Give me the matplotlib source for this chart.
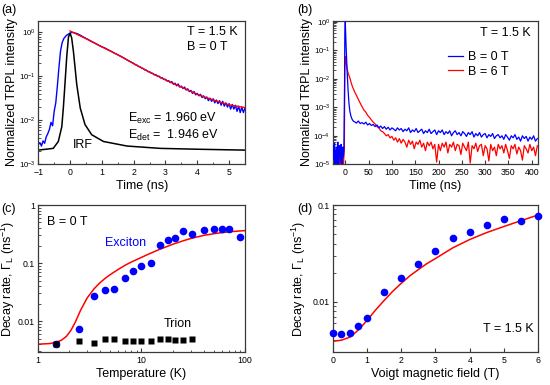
import numpy as np
import matplotlib
matplotlib.use("Agg")
import matplotlib.pyplot as plt
from matplotlib.ticker import MultipleLocator, FixedLocator, NullFormatter, LogLocator

plt.rcParams['font.family'] = ['Liberation Sans', 'DejaVu Sans']
plt.rcParams['mathtext.fontset'] = 'custom'
plt.rcParams['mathtext.rm'] = 'Liberation Sans'
plt.rcParams['mathtext.it'] = 'Liberation Sans:italic'
plt.rcParams['mathtext.bf'] = 'Liberation Sans:bold'

# ---------------- Panel (a) data ----------------
a_blue_rise_t = [-1.00, -0.95, -0.90, -0.85, -0.80, -0.75, -0.70, -0.65, -0.60, -0.55, -0.50,
                 -0.45, -0.40, -0.35, -0.30, -0.25, -0.20, -0.15, -0.10, -0.05, 0.00, 0.05, 0.10]
a_blue_rise = [0.0028, 0.0031, 0.0026, 0.0034, 0.0030, 0.0042, 0.0050, 0.0062, 0.0090, 0.0075, 0.016,
               0.025, 0.060, 0.16, 0.38, 0.58, 0.72, 0.80, 0.87, 0.92, 0.96, 1.00, 0.99]
a_blue_mid_t = [0.2, 0.3, 0.4, 0.5, 0.6, 0.7, 0.8, 0.9, 1.0, 1.1, 1.2, 1.3, 1.4, 1.5, 1.6, 1.7, 1.8, 1.9]
a_blue_mid = [0.95, 0.88, 0.80, 0.73, 0.67, 0.61, 0.56, 0.51, 0.47, 0.44, 0.40, 0.37, 0.335, 0.31,
              0.285, 0.26, 0.235, 0.215]
a_blue_tail = [0.197, 0.184, 0.180, 0.168, 0.165, 0.154, 0.151, 0.140, 0.138, 0.128, 0.127, 0.118,
               0.117, 0.108, 0.109, 0.100, 0.101, 0.092, 0.093, 0.085, 0.086, 0.078, 0.080, 0.072,
               0.076, 0.066, 0.070, 0.061, 0.067, 0.057, 0.060, 0.053, 0.057, 0.049, 0.052, 0.045,
               0.048, 0.041, 0.045, 0.038, 0.041, 0.036, 0.039, 0.033, 0.036, 0.031, 0.034, 0.028,
               0.032, 0.027, 0.031, 0.025, 0.029, 0.024, 0.028, 0.022, 0.027, 0.021, 0.025, 0.020,
               0.024, 0.018, 0.023, 0.018, 0.022, 0.016, 0.021, 0.015, 0.020, 0.015, 0.019]
a_fit_t = [0.0, 0.5, 1.0, 1.5, 2.0, 2.5, 3.0, 3.5, 4.0, 4.5, 5.0, 5.5]
a_fit = [1.08, 0.72, 0.47, 0.31, 0.195, 0.125, 0.083, 0.057, 0.039, 0.029, 0.0225, 0.0195]
a_irf_t = [-1.0, -0.53, -0.37, -0.26, -0.21, -0.16, -0.105, -0.05, 0.0, 0.05, 0.105, 0.16, 0.21,
           0.32, 0.47, 0.68, 1.05, 1.79, 2.84, 4.0, 5.5]
a_irf = [0.0021, 0.0023, 0.0033, 0.0072, 0.020, 0.069, 0.28, 0.79, 0.96, 0.75, 0.37, 0.15, 0.065,
         0.019, 0.008, 0.0047, 0.0033, 0.0026, 0.0023, 0.0022, 0.0021]

# ---------------- Panel (b) data (tails in units of 1e-5) ----------------
b_blue_pre = [3.5, 1.5, 4.5, 2, 5.5, 0.5, 3, 2.5, 4, 1, 3.5, 6, 2, 0.6, 4.5, 2.5, 3, 1.2, 5, 2,
              0.5, 3.5, 4, 1.8, 3]          # t = -27 ... -3
b_red_pre = [2, 0.6, 3.5, 1.5, 4, 0.5, 2.5, 3, 0.8, 2, 3.5]   # t = -12 ... -2
b_blue_early_t = [-1.5, -1, 0, 1, 2, 3, 4, 5, 6, 7, 8, 10, 12, 14, 16, 18]
b_blue_early = [0.008, 0.4, 1.0, 0.3, 0.11, 0.04, 0.018, 0.008, 0.004, 0.0022, 0.0013, 7e-4,
                5e-4, 4e-4, 3.5e-4, 3.2e-4]
b_red_early_t = [-1, 0, 1, 2, 3, 4, 6, 8, 10, 12, 14, 16, 18]
b_red_early = [0.02, 0.06, 0.045, 0.035, 0.028, 0.022, 0.016, 0.013, 0.0105, 0.008, 0.0062, 0.005, 0.0042]
b_blue_tail = [31, 28, 33, 27, 29, 26, 30, 24, 27, 23, 25, 21, 24, 19, 22, 18, 21, 17, 20, 16,
               19, 17, 15, 19, 16, 18, 14, 17, 15, 19, 13, 16, 14, 18, 13, 15, 17, 12, 15, 13,
               17, 12, 14, 16, 11, 15, 13, 16, 11, 14, 12, 15, 10, 13, 15, 11, 13, 10, 14, 12,
               9.5, 13, 11, 14, 9, 12, 10, 13, 9, 11, 12, 8.5, 11, 9.5, 12, 8, 10, 11, 8.5, 10,
               7.5, 11, 9, 7, 10, 8.5, 11, 7.5, 9, 6.5, 10, 8, 9.5, 6.5, 9, 7.5, 10, 6.5, 8]
b_red_tail = [350, 260, 190, 140, 105, 80, 68, 52, 44, 36, 30, 26, 21, 19, 15, 14, 12, 10, 11, 8.5,
              9.5, 7, 8.5, 6, 8, 5.5, 7.5, 6, 4, 7, 5, 6.5, 3.5, 6, 5, 7, 4, 5.5, 3, 6,
              4.5, 6, 3.5, 5, 1.2, 5, 3, 5.5, 4, 6, 2.5, 5, 4, 6, 3, 5, 4.5, 2.2, 5.5, 4,
              3, 6, 1.1, 4.5, 3.5, 5.5, 2.8, 4.5, 5, 2, 4.5, 3.5, 1.3, 5, 3, 4, 2, 5, 3.5, 4.5,
              2.5, 5, 3, 1.6, 4.5, 3.5, 5, 2.3, 4, 3, 1.4, 4.5, 3.5, 2.5, 5, 3, 4, 2, 4.5]

# ---------------- Panel (c) data ----------------
c_exc_T = [1.5, 2.5, 3.5, 4.5, 5.5, 7.0, 8.4, 10.0, 12.5, 15, 18, 21, 25, 31, 40, 50, 60, 70, 89]
c_exc = [0.0041, 0.0072, 0.0276, 0.034, 0.0355, 0.056, 0.074, 0.090, 0.101, 0.202, 0.253, 0.267,
         0.352, 0.32, 0.377, 0.385, 0.38, 0.38, 0.28]
c_tri_T = [1.5, 2.5, 3.5, 4.5, 5.5, 7.0, 8.4, 10.0, 12.5, 15, 18, 21, 25, 31]
c_tri = [0.0041, 0.0046, 0.0042, 0.0049, 0.0049, 0.0045, 0.0045, 0.0046, 0.0045, 0.0049, 0.0049,
         0.0048, 0.0048, 0.0050]
c_fit_T = [1.0, 1.3, 1.5, 1.7, 1.9, 2.1, 2.3, 2.6, 3.0, 3.5, 4.0, 4.5, 5, 6, 7, 8, 10, 12, 15,
           20, 25, 30, 40, 50, 60, 70, 85, 100]
c_fit = [0.0040, 0.0041, 0.0043, 0.0047, 0.0055, 0.0070, 0.0095, 0.0155, 0.025, 0.036, 0.046,
         0.055, 0.063, 0.078, 0.092, 0.104, 0.125, 0.145, 0.172, 0.21, 0.24, 0.265, 0.30, 0.32,
         0.335, 0.345, 0.355, 0.362]

# ---------------- Panel (d) data ----------------
d_B = [0, 0.25, 0.5, 0.75, 1.0, 1.5, 2.0, 2.5, 3.0, 3.5, 4.0, 4.5, 5.0, 5.5, 6.0]
d_rate = [0.0048, 0.00463, 0.0048, 0.00565, 0.0068, 0.0126, 0.0177, 0.0245, 0.0334, 0.0459,
          0.052, 0.0626, 0.071, 0.0689, 0.0776]
d_fit_B = [0, 0.25, 0.5, 0.75, 1.0, 1.25, 1.5, 1.75, 2.0, 2.25, 2.5, 2.75, 3.0, 3.5, 4.0, 4.5,
           5.0, 5.5, 6.0]
d_fit = [0.0039, 0.0040, 0.0043, 0.0051, 0.0064, 0.0082, 0.0103, 0.0128, 0.0155, 0.0185, 0.0215,
         0.0248, 0.028, 0.036, 0.044, 0.052, 0.060, 0.069, 0.079]

BLUE = '#0000ff'
RED = '#ff0000'
FRAME = '#3a3a3a'
TICK_FS = 6.3
LOGTICK_FS = 5.6
LAB_FS = 9
ANN_FS = 9


def style(ax, ylab_x, ytick_fs=TICK_FS):
    for s in ax.spines.values():
        s.set_color(FRAME)
        s.set_linewidth(0.9)
    ax.tick_params(which='both', direction='in', colors=FRAME, labelcolor='black',
                   labelsize=TICK_FS, top=False, right=False, pad=2.5)
    ax.tick_params(axis='y', which='both', labelsize=ytick_fs, pad=1.8)
    ax.tick_params(which='major', length=3, width=0.8)
    ax.tick_params(which='minor', length=1.8, width=0.6)
    ax.yaxis.set_label_coords(ylab_x, 0.5)


fig = plt.figure(figsize=(5.5, 3.85), dpi=100)
axA = fig.add_axes([0.0696, 0.5733, 0.3758, 0.373])
axB = fig.add_axes([0.6049, 0.5733, 0.3738, 0.373])
axC = fig.add_axes([0.0685, 0.0849, 0.3769, 0.3826])
axD = fig.add_axes([0.6049, 0.0849, 0.3738, 0.3826])

# ----- (a)
a_blue_t = list(a_blue_rise_t) + list(a_blue_mid_t) + list(2.0 + 0.05 * np.arange(len(a_blue_tail)))
a_blue = list(a_blue_rise) + list(a_blue_mid) + list(a_blue_tail)
axA.plot(a_blue_t, a_blue, color=BLUE, lw=1.0)
axA.plot(a_fit_t, a_fit, color=RED, lw=1.0)
axA.plot(a_irf_t, a_irf, color='black', lw=1.1)
axA.set_yscale('log')
axA.set_xlim(-1, 5.5)
axA.set_ylim(1e-3, 1.85)
axA.xaxis.set_major_locator(MultipleLocator(1))
axA.xaxis.set_minor_locator(MultipleLocator(0.5))
axA.yaxis.set_major_locator(FixedLocator([1e-3, 1e-2, 1e-1, 1e0]))
axA.yaxis.set_minor_locator(LogLocator(subs=np.arange(2, 10)))
axA.yaxis.set_minor_formatter(NullFormatter())
axA.set_xlabel('Time (ns)', fontsize=LAB_FS, labelpad=2)
axA.set_ylabel('Normalized TRPL intensity', fontsize=LAB_FS)
style(axA, -0.097, LOGTICK_FS)
axA.text(0.72, 0.921, 'T = 1.5 K', transform=axA.transAxes, fontsize=ANN_FS, va='center')
axA.text(0.72, 0.817, 'B = 0 T', transform=axA.transAxes, fontsize=ANN_FS, va='center')
axA.text(0.434, 0.322, r'E$_\mathrm{exc}$ = 1.960 eV', transform=axA.transAxes, fontsize=ANN_FS, va='center')
axA.text(0.434, 0.204, r'E$_\mathrm{det}$ =  1.946 eV', transform=axA.transAxes, fontsize=ANN_FS, va='center')
axA.text(0.168, 0.134, 'IRF', transform=axA.transAxes, fontsize=ANN_FS, va='center')
fig.text(0.003, 0.973, '(a)', fontsize=ANN_FS, va='center')

# ----- (b)
s = 1e-5
bt_blue = list(-27 + np.arange(len(b_blue_pre))) + list(b_blue_early_t) + list(20 + 4 * np.arange(len(b_blue_tail)))
bv_blue = [v * s for v in b_blue_pre] + list(b_blue_early) + [v * s for v in b_blue_tail]
bt_red = list(-12 + np.arange(len(b_red_pre))) + list(b_red_early_t) + list(20 + 4 * np.arange(len(b_red_tail)))
bv_red = [v * s for v in b_red_pre] + list(b_red_early) + [v * s for v in b_red_tail]
axB.plot(bt_red, bv_red, color=RED, lw=0.9, label='B = 6 T', zorder=2)
axB.plot(bt_blue, bv_blue, color=BLUE, lw=0.9, label='B = 0 T', zorder=3)
axB.set_yscale('log')
axB.set_xlim(-27, 414)
axB.set_ylim(1e-5, 1.1)
axB.xaxis.set_major_locator(MultipleLocator(50))
axB.yaxis.set_major_locator(FixedLocator([1e-5, 1e-4, 1e-3, 1e-2, 1e-1, 1e0]))
axB.yaxis.set_minor_locator(LogLocator(subs=np.arange(2, 10)))
axB.yaxis.set_minor_formatter(NullFormatter())
axB.set_xlabel('Time (ns)', fontsize=LAB_FS, labelpad=2)
axB.set_ylabel('Normalized TRPL intensity', fontsize=LAB_FS)
style(axB, -0.097, LOGTICK_FS)
axB.text(0.716, 0.914, 'T = 1.5 K', transform=axB.transAxes, fontsize=ANN_FS, va='center')
h, l = axB.get_legend_handles_labels()
axB.legend(h[::-1], l[::-1], loc='center left', bbox_to_anchor=(0.535, 0.695), frameon=False,
           fontsize=ANN_FS, handlelength=1.25, handletextpad=0.35, labelspacing=0.2,
           borderaxespad=0)
fig.text(0.54, 0.973, '(b)', fontsize=ANN_FS, va='center')

# ----- (c)
axC.plot(c_fit_T, c_fit, color=RED, lw=1.1, zorder=2)
axC.plot(c_exc_T, c_exc, 'o', color=BLUE, ms=5.5, mec='none', zorder=3)
axC.plot(c_tri_T, c_tri, 's', color='black', ms=4.5, mec='none', zorder=3)
axC.set_xscale('log')
axC.set_yscale('log')
axC.set_xlim(1, 100)
axC.set_ylim(0.0029, 1)
axC.xaxis.set_major_locator(FixedLocator([1, 10, 100]))
axC.set_xticklabels(['1', '10', '100'])
axC.xaxis.set_minor_locator(LogLocator(subs=np.arange(2, 10)))
axC.xaxis.set_minor_formatter(NullFormatter())
axC.yaxis.set_major_locator(FixedLocator([0.01, 0.1, 1]))
axC.set_yticklabels(['0.01', '0.1', '1'])
axC.yaxis.set_minor_locator(LogLocator(subs=np.arange(2, 10)))
axC.yaxis.set_minor_formatter(NullFormatter())
axC.set_xlabel('Temperature (K)', fontsize=LAB_FS, labelpad=2)
axC.set_ylabel(r'Decay rate, $\Gamma_\mathrm{L}$ (ns$^{-1}$)', fontsize=LAB_FS)
style(axC, -0.098)
axC.text(0.045, 0.885, 'B = 0 T', transform=axC.transAxes, fontsize=ANN_FS, va='center')
axC.text(0.325, 0.742, 'Exciton', transform=axC.transAxes, fontsize=ANN_FS, va='center', color=BLUE)
axC.text(0.61, 0.19, 'Trion', transform=axC.transAxes, fontsize=ANN_FS, va='center')
fig.text(0.003, 0.458, '(c)', fontsize=ANN_FS, va='center')

# ----- (d)
axD.plot(d_fit_B, d_fit, color=RED, lw=1.1, zorder=2)
axD.plot(d_B, d_rate, 'o', color=BLUE, ms=5.5, mec='none', zorder=3, clip_on=False)
axD.set_yscale('log')
axD.set_xlim(0, 6)
axD.set_ylim(0.003, 0.1)
axD.xaxis.set_major_locator(MultipleLocator(1))
axD.yaxis.set_major_locator(FixedLocator([0.01, 0.1]))
axD.set_yticklabels(['0.01', '0.1'])
axD.yaxis.set_minor_locator(LogLocator(subs=np.arange(2, 10)))
axD.yaxis.set_minor_formatter(NullFormatter())
axD.set_xlabel('Voigt magnetic field (T)', fontsize=LAB_FS, labelpad=2)
axD.set_ylabel(r'Decay rate, $\Gamma_\mathrm{L}$ (ns$^{-1}$)', fontsize=LAB_FS)
style(axD, -0.12)
axD.text(0.733, 0.157, 'T = 1.5 K', transform=axD.transAxes, fontsize=ANN_FS, va='center')
fig.text(0.54, 0.458, '(d)', fontsize=ANN_FS, va='center')

fig.savefig('out.png', dpi=100)
